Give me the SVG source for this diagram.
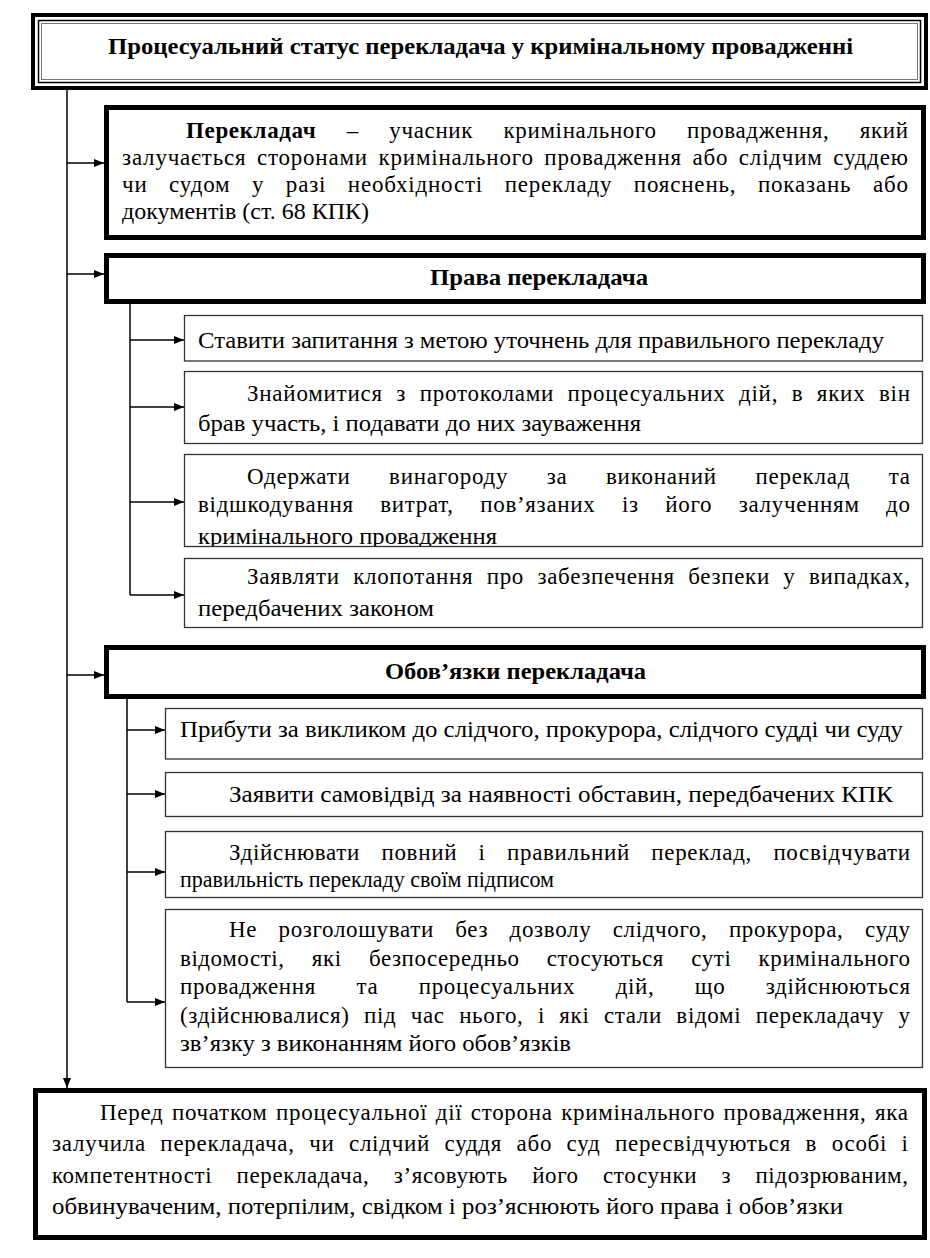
<svg xmlns="http://www.w3.org/2000/svg" width="930" height="1258" viewBox="0 0 930 1258">
<defs>
<marker id="ah" markerUnits="userSpaceOnUse" markerWidth="10" markerHeight="8" refX="10" refY="4" orient="auto">
<path d="M0,0 L10,4 L0,8 z" fill="#000"/>
</marker>
<clipPath id="clipA3"><rect x="185" y="455" width="737" height="91"/></clipPath>
</defs>
<rect width="930" height="1258" fill="#fff"/>

<g id="connectors" stroke="#000" stroke-width="1.5" fill="none">
<path d="M67,86 V1088" marker-end="url(#ah)"/>
<path d="M67,163 H104" marker-end="url(#ah)"/>
<path d="M67,274 H104" marker-end="url(#ah)"/>
<path d="M67,675 H104" marker-end="url(#ah)"/>
<path d="M130,304 V595"/>
<path d="M130,340 H184" marker-end="url(#ah)"/>
<path d="M130,407 H184" marker-end="url(#ah)"/>
<path d="M130,502 H184" marker-end="url(#ah)"/>
<path d="M130,595 H184" marker-end="url(#ah)"/>
<path d="M127,699 V1002"/>
<path d="M127,730 H165" marker-end="url(#ah)"/>
<path d="M127,794 H165" marker-end="url(#ah)"/>
<path d="M127,872 H165" marker-end="url(#ah)"/>
<path d="M127,1002 H165" marker-end="url(#ah)"/>
</g>

<g id="title">
<rect x="33" y="15" width="893" height="73" fill="#fff" stroke="#000" stroke-width="4"/>
<rect x="38.5" y="20.5" width="882" height="62" fill="none" stroke="#000" stroke-width="1.5"/>
<rect x="41.5" y="23.5" width="876" height="56" fill="none" stroke="#777" stroke-width="1"/>
<text font-family="Liberation Serif" font-size="23" font-weight="bold" x="108" y="54" textLength="745" lengthAdjust="spacingAndGlyphs">Процесуальний статус перекладача у кримінальному провадженні</text>
</g>

<g id="definition">
<rect x="106.5" y="107.5" width="817" height="130" fill="#fff" stroke="#000" stroke-width="5"/>
<text font-family="Liberation Serif" font-size="23" x="186" y="138" word-spacing="24" textLength="722" lengthAdjust="spacing"><tspan font-weight="bold">Перекладач</tspan> – учасник кримінального провадження, який</text>
<text font-family="Liberation Serif" font-size="23" x="122" y="165" word-spacing="4" textLength="786" lengthAdjust="spacing">залучається сторонами кримінального провадження або слідчим суддею</text>
<text font-family="Liberation Serif" font-size="23" x="122" y="192" word-spacing="15" textLength="786" lengthAdjust="spacing">чи судом у разі необхідності перекладу пояснень, показань або</text>
<text font-family="Liberation Serif" font-size="23" x="122" y="219" textLength="247" lengthAdjust="spacingAndGlyphs">документів (ст. 68 КПК)</text>
</g>

<g id="rights">
<rect x="106.5" y="255.5" width="817" height="46" fill="#fff" stroke="#000" stroke-width="5"/>
<text font-family="Liberation Serif" font-size="23" font-weight="bold" x="430" y="285" textLength="218" lengthAdjust="spacingAndGlyphs">Права перекладача</text>
</g>

<g id="right1">
<rect x="184.5" y="315.5" width="738" height="45.5" fill="#fff" stroke="#333" stroke-width="1.3"/>
<text font-family="Liberation Serif" font-size="23" x="198" y="348" textLength="686" lengthAdjust="spacingAndGlyphs">Ставити запитання з метою уточнень для правильного перекладу</text>
</g>

<g id="right2">
<rect x="184.5" y="371.5" width="738" height="72" fill="#fff" stroke="#333" stroke-width="1.3"/>
<text font-family="Liberation Serif" font-size="23" x="247" y="401" word-spacing="7" textLength="663" lengthAdjust="spacing">Знайомитися з протоколами процесуальних дій, в яких він</text>
<text font-family="Liberation Serif" font-size="23" x="198" y="431" textLength="443" lengthAdjust="spacingAndGlyphs">брав участь, і подавати до них зауваження</text>
</g>

<g id="right3">
<rect x="184.5" y="454.5" width="738" height="92" fill="#fff" stroke="#333" stroke-width="1.3"/>
<g clip-path="url(#clipA3)">
<text font-family="Liberation Serif" font-size="23" x="247" y="484" word-spacing="32" textLength="663" lengthAdjust="spacing">Одержати винагороду за виконаний переклад та</text>
<text font-family="Liberation Serif" font-size="23" x="198" y="512" word-spacing="20" textLength="712" lengthAdjust="spacing">відшкодування витрат, пов’язаних із його залученням до</text>
<text font-family="Liberation Serif" font-size="23" x="198" y="544" textLength="299" lengthAdjust="spacingAndGlyphs">кримінального провадження</text>
</g>
</g>

<g id="right4">
<rect x="184.5" y="558.5" width="738" height="69" fill="#fff" stroke="#333" stroke-width="1.3"/>
<text font-family="Liberation Serif" font-size="23" x="247" y="584" word-spacing="7" textLength="663" lengthAdjust="spacing">Заявляти клопотання про забезпечення безпеки у випадках,</text>
<text font-family="Liberation Serif" font-size="23" x="198" y="616" textLength="236" lengthAdjust="spacingAndGlyphs">передбачених законом</text>
</g>

<g id="duties">
<rect x="106.5" y="647.5" width="817" height="49" fill="#fff" stroke="#000" stroke-width="5"/>
<text font-family="Liberation Serif" font-size="23" font-weight="bold" x="385" y="679" textLength="261" lengthAdjust="spacingAndGlyphs">Обов’язки перекладача</text>
</g>

<g id="duty1">
<rect x="165.5" y="708.5" width="757" height="50.5" fill="#fff" stroke="#333" stroke-width="1.3"/>
<text font-family="Liberation Serif" font-size="23" x="180" y="737" textLength="723" lengthAdjust="spacingAndGlyphs">Прибути за викликом до слідчого, прокурора, слідчого судді чи суду</text>
</g>

<g id="duty2">
<rect x="165.5" y="772.5" width="757" height="44" fill="#fff" stroke="#333" stroke-width="1.3"/>
<text font-family="Liberation Serif" font-size="23" x="229" y="802" textLength="664" lengthAdjust="spacingAndGlyphs">Заявити самовідвід за наявності обставин, передбачених КПК</text>
</g>

<g id="duty3">
<rect x="165.5" y="831.5" width="757" height="66" fill="#fff" stroke="#333" stroke-width="1.3"/>
<text font-family="Liberation Serif" font-size="23" x="229" y="860" word-spacing="15" textLength="681" lengthAdjust="spacing">Здійснювати повний і правильний переклад, посвідчувати</text>
<text font-family="Liberation Serif" font-size="23" x="180" y="887" textLength="374" lengthAdjust="spacingAndGlyphs">правильність перекладу своїм підписом</text>
</g>

<g id="duty4">
<rect x="165.5" y="909.5" width="757" height="158" fill="#fff" stroke="#333" stroke-width="1.3"/>
<text font-family="Liberation Serif" font-size="23" x="229" y="937" word-spacing="15" textLength="681" lengthAdjust="spacing">Не розголошувати без дозволу слідчого, прокурора, суду</text>
<text font-family="Liberation Serif" font-size="23" x="180" y="965.5" word-spacing="21" textLength="730" lengthAdjust="spacing">відомості, які безпосередньо стосуються суті кримінального</text>
<text font-family="Liberation Serif" font-size="23" x="180" y="994" word-spacing="34" textLength="730" lengthAdjust="spacing">провадження та процесуальних дій, що здійснюються</text>
<text font-family="Liberation Serif" font-size="23" x="180" y="1022.5" word-spacing="8" textLength="730" lengthAdjust="spacing">(здійснювалися) під час нього, і які стали відомі перекладачу у</text>
<text font-family="Liberation Serif" font-size="23" x="180" y="1051" textLength="391" lengthAdjust="spacingAndGlyphs">зв’язку з виконанням його обов’язків</text>
</g>

<g id="verification">
<rect x="35.5" y="1090.5" width="889" height="147" fill="#fff" stroke="#000" stroke-width="5"/>
<text font-family="Liberation Serif" font-size="23" x="100" y="1120" word-spacing="2" textLength="808" lengthAdjust="spacing">Перед початком процесуальної дії сторона кримінального провадження, яка</text>
<text font-family="Liberation Serif" font-size="23" x="52" y="1151" word-spacing="8" textLength="856" lengthAdjust="spacing">залучила перекладача, чи слідчий суддя або суд пересвідчуються в особі і</text>
<text font-family="Liberation Serif" font-size="23" x="52" y="1183" word-spacing="18" textLength="856" lengthAdjust="spacing">компетентності перекладача, з’ясовують його стосунки з підозрюваним,</text>
<text font-family="Liberation Serif" font-size="23" x="52" y="1214" textLength="791" lengthAdjust="spacingAndGlyphs">обвинуваченим, потерпілим, свідком і роз’яснюють його права і обов’язки</text>
</g>
</svg>
